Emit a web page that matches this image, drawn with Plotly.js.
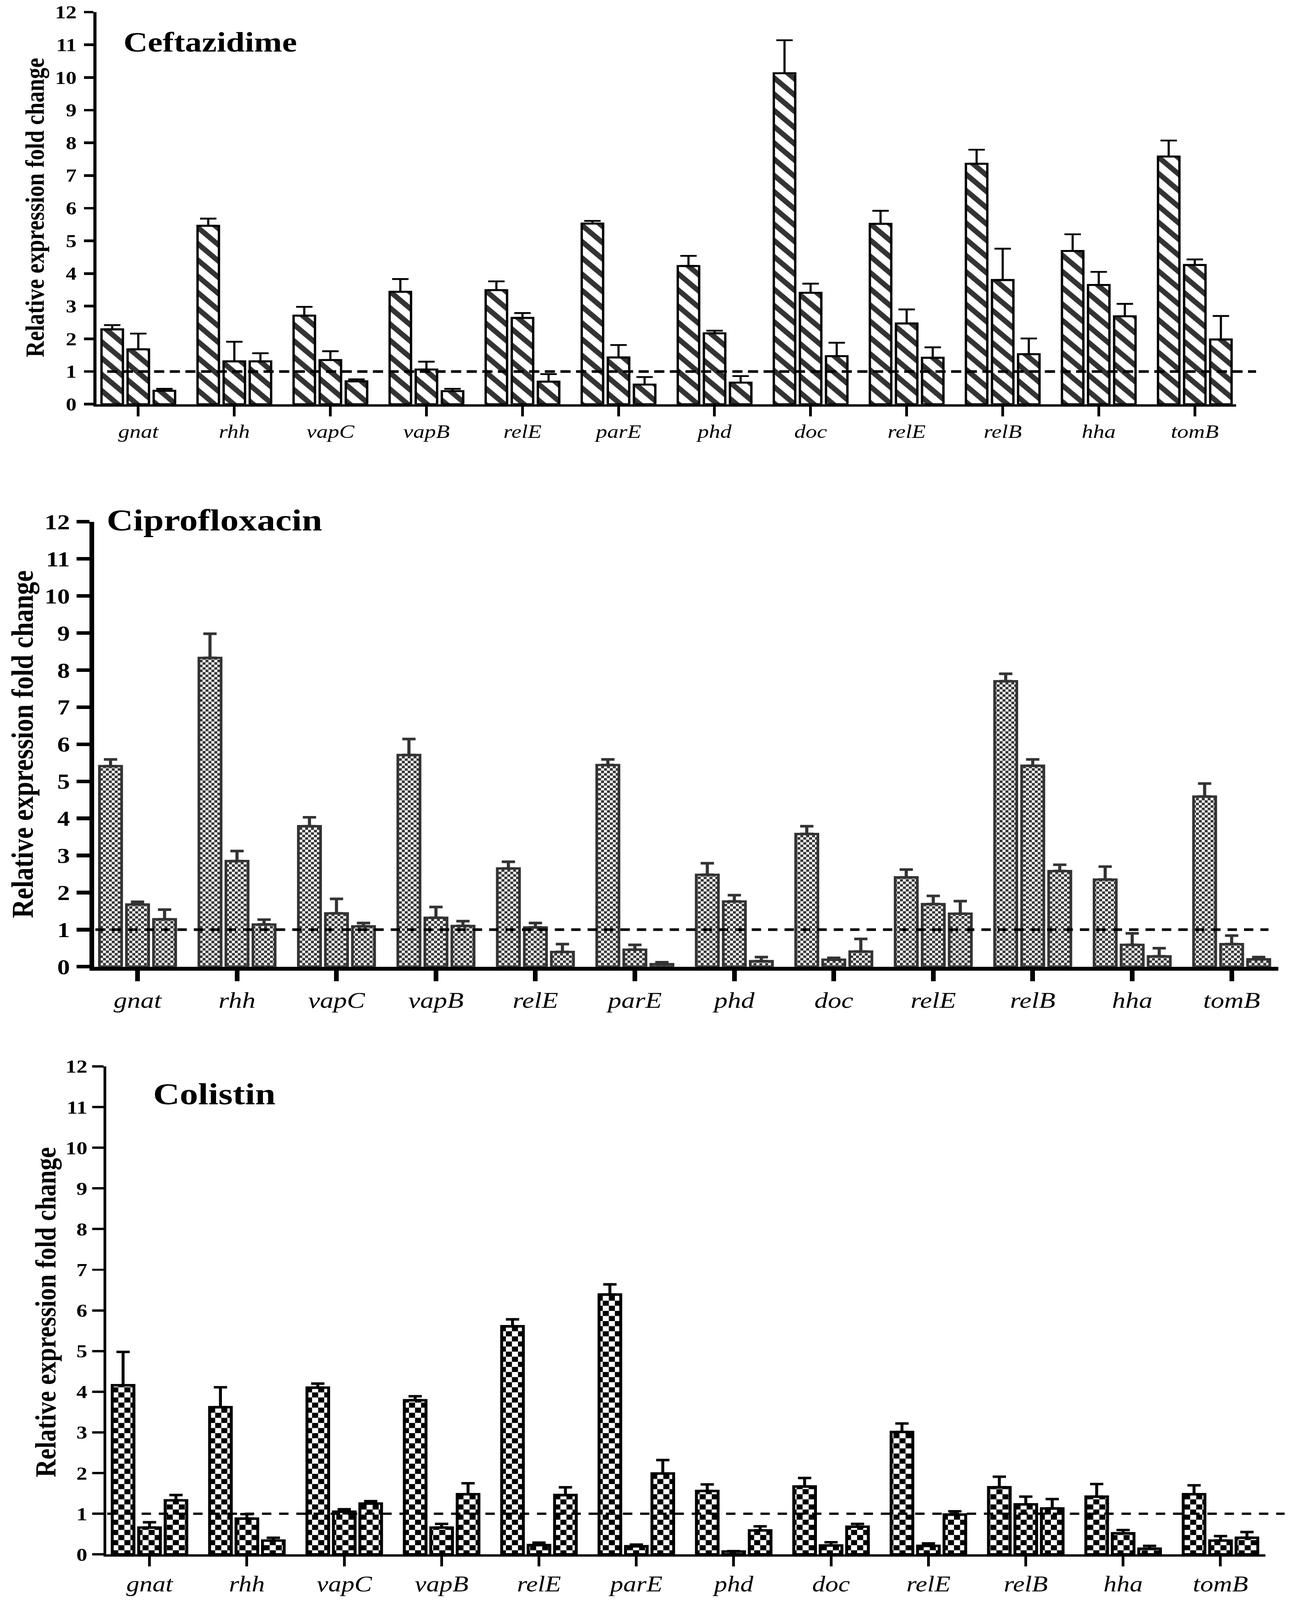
<!DOCTYPE html>
<html>
<head>
<meta charset="utf-8">
<script src="https://cdn.plot.ly/plotly-3.0.1.min.js"></script>
<style>
  html, body { margin: 0; padding: 0; background: #fff; overflow: hidden; }
  #chart { transform-origin: 0 0; }
</style>
</head>
<body>
<div id="chart"></div>

<script>
// genes on the x axis (relE shows up twice, so the axis is indexed, not categorical)
var genes = ['gnat', 'rhh', 'vapC', 'vapB', 'relE', 'parE', 'phd', 'doc', 'relE', 'relB', 'hha', 'tomB'];
var yTicks = [0, 1, 2, 3, 4, 5, 6, 7, 8, 9, 10, 11, 12];

// Ceftazidime: mean fold change and SD, three bars per gene
var cefMeans = [
  [2.29, 5.46, 2.71, 3.44, 3.49, 5.53, 4.23, 10.13, 5.52, 7.36, 4.69, 7.58],
  [1.68, 1.31, 1.35, 1.06, 2.64, 1.43, 2.17, 3.41, 2.47, 3.80, 3.65, 4.26],
  [0.41, 1.31, 0.70, 0.40, 0.69, 0.60, 0.66, 1.47, 1.42, 1.53, 2.69, 1.98]
];
var cefErrs = [
  [0.13, 0.22, 0.27, 0.39, 0.27, 0.08, 0.31, 1.01, 0.40, 0.43, 0.51, 0.49],
  [0.48, 0.60, 0.27, 0.24, 0.15, 0.38, 0.08, 0.28, 0.43, 0.96, 0.40, 0.17],
  [0.06, 0.25, 0.06, 0.07, 0.23, 0.23, 0.20, 0.41, 0.32, 0.48, 0.38, 0.72]
];

// Ciprofloxacin
var cipMeans = [
  [5.41, 8.33, 3.79, 5.71, 2.65, 5.44, 2.48, 3.58, 2.41, 7.70, 2.35, 4.59],
  [1.68, 2.85, 1.44, 1.32, 1.06, 0.46, 1.76, 0.19, 1.69, 5.42, 0.59, 0.61],
  [1.28, 1.14, 1.09, 1.10, 0.40, 0.07, 0.15, 0.41, 1.43, 2.58, 0.28, 0.20]
];
var cipErrs = [
  [0.18, 0.65, 0.24, 0.43, 0.18, 0.15, 0.31, 0.21, 0.21, 0.20, 0.35, 0.35],
  [0.07, 0.27, 0.39, 0.29, 0.12, 0.13, 0.17, 0.05, 0.22, 0.17, 0.31, 0.23],
  [0.26, 0.13, 0.09, 0.13, 0.21, 0.05, 0.11, 0.34, 0.34, 0.17, 0.22, 0.06]
];

// Colistin
var colMeans = [
  [4.16, 3.62, 4.10, 3.79, 5.61, 6.39, 1.56, 1.67, 3.01, 1.65, 1.42, 1.48],
  [0.66, 0.88, 1.05, 0.66, 0.23, 0.20, 0.07, 0.22, 0.21, 1.23, 0.52, 0.34],
  [1.33, 0.34, 1.25, 1.48, 1.46, 1.99, 0.59, 0.68, 0.98, 1.13, 0.14, 0.41]
];
var colErrs = [
  [0.82, 0.49, 0.10, 0.10, 0.17, 0.25, 0.16, 0.21, 0.21, 0.26, 0.31, 0.22],
  [0.13, 0.11, 0.06, 0.09, 0.06, 0.04, 0.01, 0.08, 0.06, 0.19, 0.08, 0.11],
  [0.13, 0.07, 0.06, 0.27, 0.19, 0.33, 0.10, 0.07, 0.08, 0.23, 0.07, 0.14]
];

var W = 3307, H = 4869;
var serif = "'Liberation Serif', 'Times New Roman', Times, serif";
var idx = genes.map(function(g, i) { return i; });
var zeros = genes.map(function() { return 0; });

function makeBars(means, errs, xa, ya, marker, err) {
  return means.map(function(m, k) {
    return {
      type: 'bar', x: idx, y: m, xaxis: xa, yaxis: ya, marker: marker,
      // only the upper half of the SD is shown, like the original
      error_y: {type: 'data', symmetric: false, array: errs[k], arrayminus: zeros,
        color: err.color, thickness: err.thickness, width: err.width},
      hoverinfo: 'skip'
    };
  });
}

var stripes = {
  color: 'white', line: {color: 'black', width: 6},
  pattern: {shape: '\\', size: 35, solidity: 0.42, fgcolor: '#333', bgcolor: 'white', fillmode: 'replace'}
};
var plainGrey = {color: 'white', line: {color: '#333', width: 7}};
var plainBlack = {color: 'white', line: {color: 'black', width: 7.5}};

var data = []
  .concat(makeBars(cefMeans, cefErrs, 'x', 'y', stripes, {color: 'black', thickness: 5.5, width: 21}))
  .concat(makeBars(cipMeans, cipErrs, 'x2', 'y2', plainGrey, {color: '#333', thickness: 8, width: 17}))
  .concat(makeBars(colMeans, colErrs, 'x3', 'y3', plainBlack, {color: 'black', thickness: 7.5, width: 17}));

function xAxis(domain, range, anchor, lw, tlen, fsize, standoff) {
  return {
    domain: domain, range: range, anchor: anchor,
    tickmode: 'array', tickvals: idx, ticktext: genes,
    ticks: 'outside', ticklen: tlen, tickwidth: lw, tickcolor: 'black',
    showline: true, linewidth: lw, linecolor: 'black',
    showgrid: false, zeroline: false, ticklabelstandoff: standoff,
    tickfont: {family: serif, size: fsize, color: 'black', style: 'italic'}
  };
}
function yAxis(domain, anchor, lw, tlen, tw, fsize, standoff) {
  return {
    domain: domain, range: [0, 12], anchor: anchor,
    tickmode: 'array', tickvals: yTicks,
    ticks: 'outside', ticklen: tlen, tickwidth: tw, tickcolor: 'black',
    showline: true, linewidth: lw, linecolor: 'black',
    showgrid: false, zeroline: false, ticklabelstandoff: standoff,
    tickfont: {family: serif, size: fsize, color: 'black', weight: 'bold'}
  };
}
// dashed reference line at fold change = 1
function refLine(yref, x0, x1, width, dash) {
  return {type: 'line', xref: 'paper', yref: yref, x0: x0, x1: x1, y0: 1, y1: 1,
    layer: 'above', line: {color: 'black', width: width, dash: dash}};
}
function label(text, x, y, size, xanchor, angle) {
  return {text: text, xref: 'paper', yref: 'paper', x: x, y: y,
    xanchor: xanchor, yanchor: 'middle', textangle: angle, showarrow: false,
    font: {family: serif, size: size, color: 'black', weight: 'bold'}};
}

var yTitle = 'Relative expression fold change';
var layout = {
  width: W, height: H,
  margin: {l: 0, r: 0, t: 0, b: 0},
  paper_bgcolor: 'white', plot_bgcolor: 'white', showlegend: false,
  barmode: 'group', bargap: 0.185, bargroupgap: 0.18,
  xaxis:  xAxis([0.0747, 0.9568], [-0.435, 11.431], 'y', 7, 30, 58, -4),
  yaxis:  yAxis([0.7474, 0.9924], 'x', 8, 24, 8, 55, 8),
  xaxis2: xAxis([0.0729, 0.9894], [-0.436, 11.469], 'y2', 12, 32, 69, -2),
  yaxis2: yAxis([0.3958, 0.6739], 'x2', 12, 33, 11, 65, 4),
  xaxis3: xAxis([0.0822, 0.9794], [-0.445, 11.461], 'y3', 7, 29, 67, -4),
  yaxis3: yAxis([0.0285, 0.3335], 'x3', 7, 29, 7, 56, 1),
  shapes: [
    refLine('y', 0.0830, 0.9722, 8, '26px,14px'),
    refLine('y2', 0.0738, 0.9818, 8, '24px,18px'),
    refLine('y3', 0.0830, 0.9943, 7, '24px,20px')
  ],
  annotations: [
    label('Ceftazidime', 0.0950, 0.9737, 86, 'left', 0),
    label('Ciprofloxacin', 0.0819, 0.6750, 94, 'left', 0),
    label('Colistin', 0.1179, 0.3165, 94, 'left', 0),
    label(yTitle, 0.0269, 0.8704, 68, 'center', -90),
    label(yTitle, 0.0172, 0.5348, 79, 'center', -90),
    label(yTitle, 0.0352, 0.1799, 75, 'center', -90)
  ]
};

// checkerboard fills for the lower two panels (plotly has no checker pattern)
function addChecker(defs, id, cell, color) {
  var ns = 'http://www.w3.org/2000/svg';
  var p = document.createElementNS(ns, 'pattern');
  p.setAttribute('id', id);
  p.setAttribute('patternUnits', 'userSpaceOnUse');
  p.setAttribute('width', 2 * cell);
  p.setAttribute('height', 2 * cell);
  [[0, 0, 2 * cell, 'white'], [0, 0, cell, color], [cell, cell, cell, color]].forEach(function(r) {
    var rect = document.createElementNS(ns, 'rect');
    rect.setAttribute('x', r[0]); rect.setAttribute('y', r[1]);
    rect.setAttribute('width', r[2]); rect.setAttribute('height', r[2]);
    rect.setAttribute('fill', r[3]);
    p.appendChild(rect);
  });
  defs.appendChild(p);
}

Plotly.newPlot('chart', data, layout, {staticPlot: true}).then(function(gd) {
  var defs = gd.querySelector('.main-svg defs');
  addChecker(defs, 'chkCip', 7.5, '#333');
  addChecker(defs, 'chkCol', 15.5, '#000');
  gd.querySelectorAll('.subplot.x2y2 .barlayer .point path').forEach(function(p) { p.style.fill = 'url(#chkCip)'; });
  gd.querySelectorAll('.subplot.x3y3 .barlayer .point path').forEach(function(p) { p.style.fill = 'url(#chkCol)'; });
  // the window may be shorter than the figure: squeeze it so the whole figure shows
  var s = Math.min(1, window.innerHeight / H);
  if (s < 1) gd.style.transform = 'scale(1,' + s + ')';
});
</script>
</body>
</html>
